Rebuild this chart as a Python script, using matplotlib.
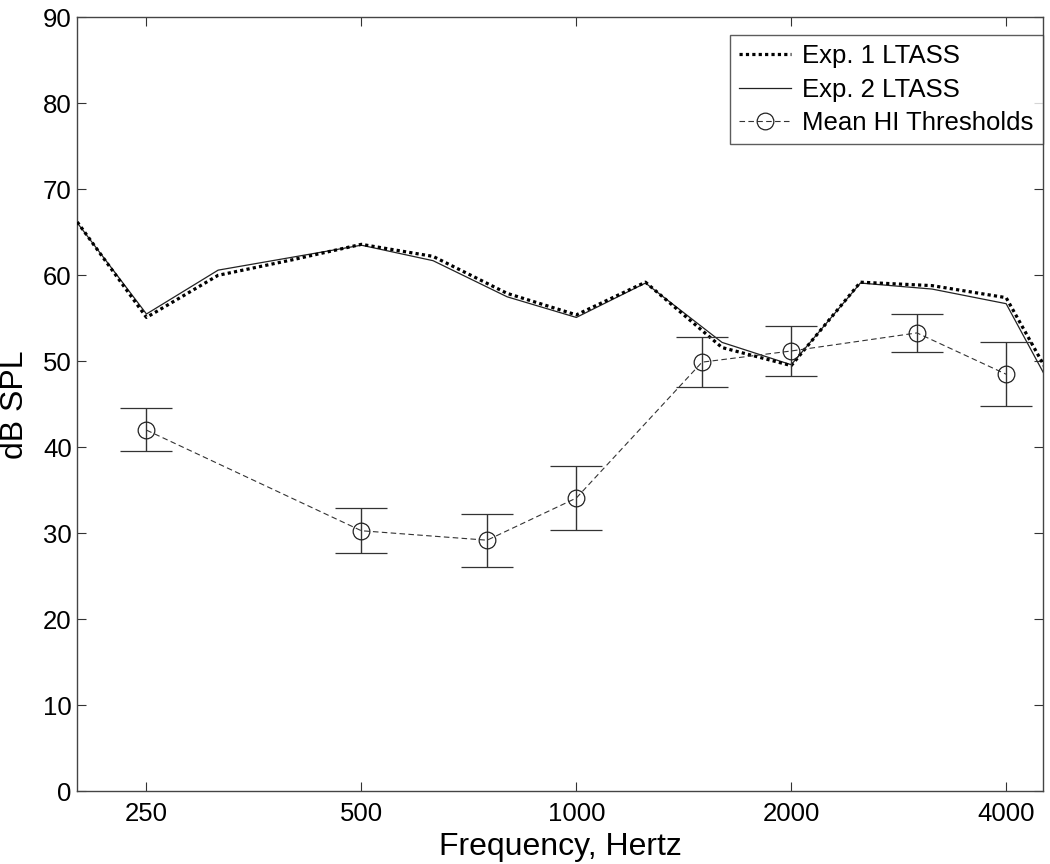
import matplotlib
matplotlib.use("Agg")
import matplotlib.pyplot as plt
from matplotlib.lines import Line2D
import numpy as np

plt.rcParams["font.family"] = ["Liberation Sans", "DejaVu Sans"]

# LTASS spectra, third-octave bands
ltass_freqs = [200, 250, 315, 400, 500, 630, 800, 1000, 1250, 1600, 2000, 2500, 3150, 4000, 5000]
exp1_ltass = [66.2, 55.1, 60.0, 61.8, 63.6, 62.2, 57.9, 55.4, 59.2, 51.6, 49.5, 59.2, 58.8, 57.4, 43.0]
exp2_ltass = [66.1, 55.5, 60.6, 62.1, 63.5, 61.7, 57.5, 55.1, 59.1, 52.2, 49.6, 59.1, 58.4, 56.7, 41.8]

# mean HI thresholds with error bar ends
hi_freqs = [250, 500, 750, 1000, 1500, 2000, 3000, 4000]
hi_mean = [42.0, 30.3, 29.2, 34.1, 49.9, 51.2, 53.3, 48.5]
hi_upper = [44.6, 32.9, 32.2, 37.8, 52.8, 54.1, 55.5, 52.2]
hi_lower = [39.6, 27.7, 26.1, 30.4, 47.0, 48.3, 51.1, 44.8]

xticks = [250, 500, 1000, 2000, 4000]
yticks = list(range(0, 91, 10))

fig = plt.figure(figsize=(10.5, 8.64), dpi=100)
ax = fig.add_axes([0.0736, 0.0841, 0.9194, 0.8959])

dotted = (0, (1, 1))
dashed = (0, (5, 3))

ax.plot(ltass_freqs, exp1_ltass, color="black", lw=2.3, linestyle=dotted, zorder=3)
ax.plot(ltass_freqs, exp2_ltass, color="#222222", lw=0.9, zorder=2)

yerr = [np.array(hi_mean) - np.array(hi_lower), np.array(hi_upper) - np.array(hi_mean)]
ax.errorbar(hi_freqs, hi_mean, yerr=yerr, color="#333333", lw=0.8,
            linestyle=dashed, marker="o", ms=12, mfc="none", mec="#222222",
            mew=0.9, ecolor="#333333", elinewidth=1.0, capsize=18.4, capthick=1.0,
            zorder=4)

ax.set_xscale("log")
ax.set_xlim(200, 4500)
ax.set_ylim(0, 90)
ax.set_xticks(xticks)
ax.set_xticklabels([str(t) for t in xticks])
ax.xaxis.set_minor_locator(matplotlib.ticker.NullLocator())
ax.set_yticks(yticks)
ax.tick_params(axis="both", which="major", direction="in", length=6.7, width=0.8,
               top=True, right=True, labelsize=18.5, color="#333333")
ax.tick_params(axis="x", pad=8)
ax.tick_params(axis="y", pad=4)

for sp in ax.spines.values():
    sp.set_color("#444444")
    sp.set_linewidth(1.0)

ax.set_xlabel("Frequency, Hertz", fontsize=23, labelpad=4)
ax.set_ylabel("dB SPL", fontsize=23, labelpad=9)

handles = [
    Line2D([], [], color="black", lw=2.3, linestyle=dotted),
    Line2D([], [], color="#222222", lw=0.9),
    Line2D([], [], color="#333333", lw=0.8, linestyle=dashed, marker="o", ms=12,
           mfc="none", mec="#222222", mew=0.9),
]
labels = ["Exp. 1 LTASS", "Exp. 2 LTASS", "Mean HI Thresholds"]
leg = ax.legend(handles, labels, loc="upper right", bbox_to_anchor=(1.0, 1 - 17.5 / 774),
                borderaxespad=0, fontsize=18.5, frameon=True, fancybox=False,
                handlelength=2.0, handletextpad=0.45, labelspacing=0.38, borderpad=0.35)
leg.get_frame().set_edgecolor("#333333")
leg.get_frame().set_linewidth(1.0)

fig.savefig("out.png", dpi=100)
